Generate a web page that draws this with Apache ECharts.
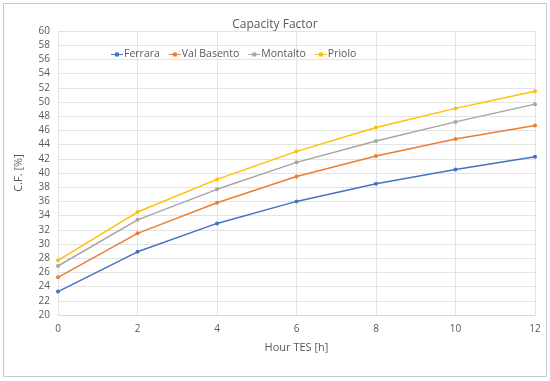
<!DOCTYPE html>
<html><head><meta charset="utf-8">
<script src="https://cdn.jsdelivr.net/npm/echarts@6/dist/echarts.min.js"></script>
<style>html,body{margin:0;padding:0;background:#fff}#c{width:550px;height:381px}</style>
</head><body><div id="c"></div>
<script>
var hours = [0, 2, 4, 6, 8, 10, 12];
var seriesNames = ['Ferrara', 'Val Basento', 'Montalto', 'Priolo'];
var ferrara = [23.3, 28.9, 32.9, 36.0, 38.5, 40.5, 42.3];
var valBasento = [25.3, 31.5, 35.8, 39.5, 42.4, 44.8, 46.7];
var montalto = [26.9, 33.4, 37.7, 41.5, 44.5, 47.2, 49.7];
var priolo = [27.7, 34.5, 39.1, 43.05, 46.4, 49.1, 51.5];
var colors = ['#4472C4', '#ED7D31', '#A5A5A5', '#FFC000'];
var allValues = [ferrara, valBasento, montalto, priolo];

var chart = echarts.init(document.getElementById('c'));
var series = seriesNames.map(function(n, i){
  return {
    name: n, type: 'line',
    data: hours.map(function(h, j){ return [h, allValues[i][j]]; }),
    symbol: 'circle', symbolSize: 4,
    lineStyle: {width: 1.5, color: colors[i]},
    itemStyle: {color: colors[i]},
    emphasis: {disabled: true}
  };
});
chart.setOption({
  animation: false,
  textStyle: {fontFamily: 'Open Sans', color: '#595959'},
  title: {text: 'Capacity Factor', left: 'center', top: 14,
    textStyle: {fontSize: 12, fontWeight: 'normal', color: '#595959', fontFamily: 'Open Sans'}},
  legend: {top: 44, left: 106, itemWidth: 12, itemHeight: 4, itemGap: 9,
    icon: 'path://M0,1.5 H12 V2.5 H0 Z M4,0 H8 V4 H4 Z',
    textStyle: {fontSize: 10.5, color: '#595959', padding: [0,0,0,-4]}},
  grid: {left: 58, right: 15, top: 31, bottom: 66},
  xAxis: {type: 'value', min: 0, max: 12, interval: 2,
    name: 'Hour TES [h]', nameLocation: 'middle', nameGap: 27,
    nameTextStyle: {fontSize: 11, color: '#595959'},
    axisLine: {lineStyle: {color: '#d9d9d9'}}, axisTick: {show: false},
    axisLabel: {fontSize: 10, color: '#595959', margin: 9},
    splitLine: {show: true, lineStyle: {color: '#e3e3e3'}}},
  yAxis: {type: 'value', min: 20, max: 60, interval: 2,
    name: 'C.F. [%]', nameLocation: 'middle', nameGap: 34,
    nameTextStyle: {fontSize: 11, color: '#595959'},
    axisLine: {show: false}, axisTick: {show: false},
    axisLabel: {fontSize: 10, color: '#595959', margin: 8},
    splitLine: {show: true, lineStyle: {color: '#e3e3e3'}}},
  graphic: [{type: 'rect', shape: {x: 3.5, y: 3.5, width: 543, height: 373},
    style: {fill: 'none', stroke: '#c8c8c8', lineWidth: 1}, silent: true}],
  series: series
});
</script></body></html>
